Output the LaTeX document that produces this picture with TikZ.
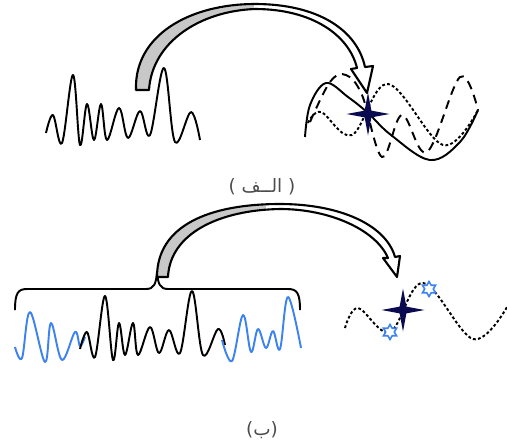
\documentclass[tikz,border=0pt]{standalone}
\usepackage{fontspec}
\usepackage{tikz}
\usetikzlibrary{shapes.geometric}
\newfontfamily\arabicfont[Script=Arabic]{DejaVu Sans}
\newfontfamily\parenfont{DejaVu Sans}
\TeXXeTstate=1
\definecolor{sigblue}{RGB}{60,130,240}
\definecolor{starnavy}{RGB}{10,10,80}
\definecolor{bandgray}{RGB}{200,200,200}

\begin{document}
\begin{tikzpicture}[x=0.02cm,y=-0.02cm,
  sig/.style={line width=1.1pt,line join=round},
  dotline/.style={line width=1.1pt,dash pattern=on 1.6pt off 1.3pt},
  dashline/.style={line width=1.1pt,dash pattern=on 5pt off 3.5pt},
  band/.style={draw,fill=white,line width=1.2pt,line join=round},
  navystar/.style={star,star points=4,star point ratio=4.5,fill=starnavy,inner sep=0pt,minimum size=0.86cm},
  hexstar/.style={star,star points=6,star point ratio=1.73,draw=sigblue,fill=white,line width=0.9pt,inner sep=0pt,minimum size=0.3cm},
  figlabel/.style={text=black!70,font=\fontsize{10.5}{12}\selectfont\parenfont}
]
\useasboundingbox (0,0) rectangle (507,444);
% (a) top: original signal
\draw[sig] plot[smooth,tension=0.6] coordinates {(46,133) (53,115) (62,143) (73,75) (80,145) (87,104) (94,140) (101,104) (107,140) (119,108) (128,138) (140,111) (150,135) (164,68) (175,142) (191,112) (200,140)};
% (a) top: three curves through one point
\draw[sig] plot[smooth,tension=0.6] coordinates {(305,137) (310,105) (326,83) (348,97) (368,113) (391,135) (430,160) (460,142) (478,110)};
\draw[dotline] plot[smooth,tension=0.6] coordinates {(308,123) (321,112) (352,135) (388,84) (443,145) (478,110)};
\draw[dashline] plot[smooth,tension=0.6] coordinates {(310,122) (330,82) (346,75) (362,95) (382,157) (402,115) (427,152) (460,77) (478,110)};
\node[navystar] (starA) at (368,114) {};
% (a) bent arrow, grey underside on the left
\path[band,path picture={\fill[bandgray] (0,0) rectangle (254,100);}]
  (136,90) .. controls (134,35) and (190,4) .. (255,4) .. controls (318,4) and (357,30) .. (365,67)
  -- (373,66) -- (367,93) -- (351,69) -- (357,68)
  .. controls (349,35) and (312,9) .. (255,9) .. controls (200,11) and (152,42) .. (149,90) -- cycle;
\node[figlabel] (lblA) at (262,187) {( {\arabicfont\beginR الــف\endR} )};
% (b) bottom: brace over the signal
\draw[sig] (15,310) .. controls (15,293) and (18,289) .. (27,289) -- (146,289) .. controls (154,289) and (156,284) .. (157,272) .. controls (158,284) and (160,289) .. (168,289) -- (288,289) .. controls (297,289) and (300,293) .. (300,310);
% (b) bottom: blue edges and black middle
\draw[sig,sigblue] plot[smooth,tension=0.6] coordinates {(15,347) (22,358) (30,312) (45,362) (51,323) (62,360) (75,332) (80,346) (85,337)};
\draw[sig] plot[smooth,tension=0.6] coordinates {(80,349) (87,332) (95,357) (105,296) (113,360) (119,323) (125,355) (133,323) (138,355) (150,327) (159,353) (169,330) (180,353) (192,291) (203,355) (218,329) (225,345)};
\draw[sig,sigblue] plot[smooth,tension=0.6] coordinates {(222,340) (232,361) (243,315) (251,352) (258,329) (266,348) (273,331) (280,349) (288,297) (301,348)};
% (b) bent arrow
\path[band,path picture={\fill[bandgray] (0,0) rectangle (266,300);}]
  (157,277) .. controls (157,225) and (210,204) .. (280,204) .. controls (340,204) and (386,225) .. (395,257)
  -- (400,256) -- (397,277) -- (383,258) -- (388,258)
  .. controls (376,230) and (330,209) .. (280,209) .. controls (220,210) and (170,233) .. (168,277) -- cycle;
% (b) bottom right: one curve and its points
\draw[dotline] plot[smooth,tension=0.6] coordinates {(345,328) (358,308) (390,332) (423,283) (473,339) (507,307)};
\node[navystar] (starB) at (403,310) {};
\node[hexstar] (hexA) at (390,332) {};
\node[hexstar] (hexB) at (429,289) {};
\node[figlabel] (lblB) at (262,430) {({\arabicfont\beginR ب\endR})};
\end{tikzpicture}
\end{document}
